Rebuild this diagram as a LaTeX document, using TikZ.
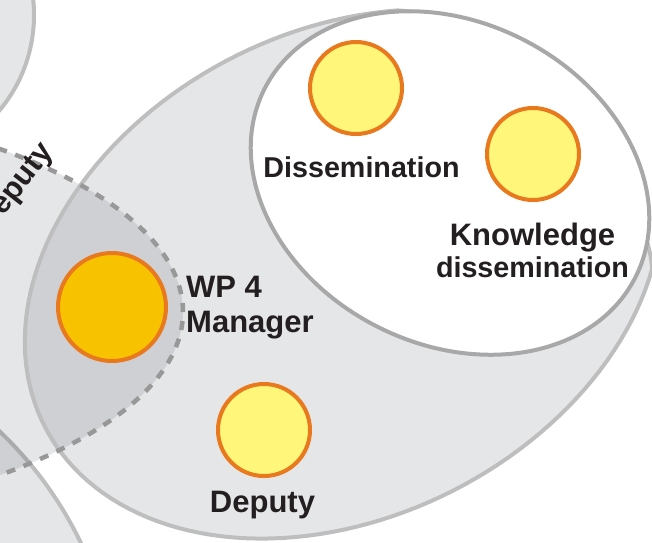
\documentclass[tikz,border=0pt]{standalone}
\usepackage{fontspec}
\setmainfont{Liberation Sans}
\definecolor{shade}{RGB}{0,10,25}
\definecolor{rimgray}{RGB}{190,190,190}
\definecolor{subgray}{RGB}{168,168,168}
\definecolor{dashgray}{RGB}{152,152,152}
\definecolor{ring}{RGB}{232,121,30}
\definecolor{pale}{RGB}{255,246,122}
\definecolor{gold}{RGB}{247,195,0}
\definecolor{ink}{RGB}{35,31,32}

\begin{document}
\begin{tikzpicture}[x=1pt,y=-1pt,
  group/.style={fill=shade,fill opacity=0.1},
  rim/.style={draw=rimgray,line width=4pt},
  member/.style={circle,draw=ring,line width=4pt,fill=pale,minimum size=92pt,inner sep=0pt},
  lead/.style={member,fill=gold,minimum size=108pt},
  lbl/.style={font=\bfseries\fontsize{31}{35}\selectfont,text=ink,inner sep=0pt},
  lblsm/.style={lbl,font=\bfseries\fontsize{28.7}{32}\selectfont}]
\useasboundingbox (0,0) rectangle (652,542);
\clip (0,0) rectangle (652,542);
% groups
\path[group,rim] (-106,15) ellipse [x radius=140pt, y radius=145pt];
\path[group,rim] (-262,707) circle [radius=380pt];
\path[group] (-387,312) ellipse [x radius=570pt, y radius=222pt];
% WP 4 group, its upper right runs under the white subgroup
\path[group,rim] plot[domain=60:326,samples=120,variable=\t]
  ({343+335*cos(\t)*cos(27)-243*sin(\t)*sin(27)},{274-335*cos(\t)*sin(27)-243*sin(\t)*cos(27)})
  .. controls (648,190) and (520,14) .. (396.7,10.5) -- cycle;
\path[draw=dashgray,line width=4.5pt,dash pattern=on 9pt off 9pt] (-387,312) ellipse [x radius=570pt, y radius=222pt];
\path[fill=white,draw=subgray,line width=4pt,rotate around={-27:(450,183)}] (450,183) ellipse [x radius=208pt, y radius=161pt];
% members
\node[member] (dis) at (356,88) {};
\node[member] (know) at (533,154) {};
\node[lead] (mgr) at (112,307) {};
\node[member] (dep) at (264,430) {};
\node[lblsm,anchor=base] (dislbl) at (361.5,177) {Dissemination};
\node[lbl,anchor=base] (knowlbl) at (532.5,245) {Knowledge};
\node[lblsm,anchor=base] (knowlbl2) at (532.5,277) {dissemination};
\node[lbl,anchor=base west] (mgrlbl) at (186,297) {WP 4};
\node[lbl,anchor=base west] (mgrlbl2) at (186,332) {Manager};
\node[lbl,anchor=base] (deplbl) at (262.5,512) {Deputy};
\node[lbl,anchor=base,rotate=52] (sidelbl) at (22,193) {Deputy};
\end{tikzpicture}
\end{document}
